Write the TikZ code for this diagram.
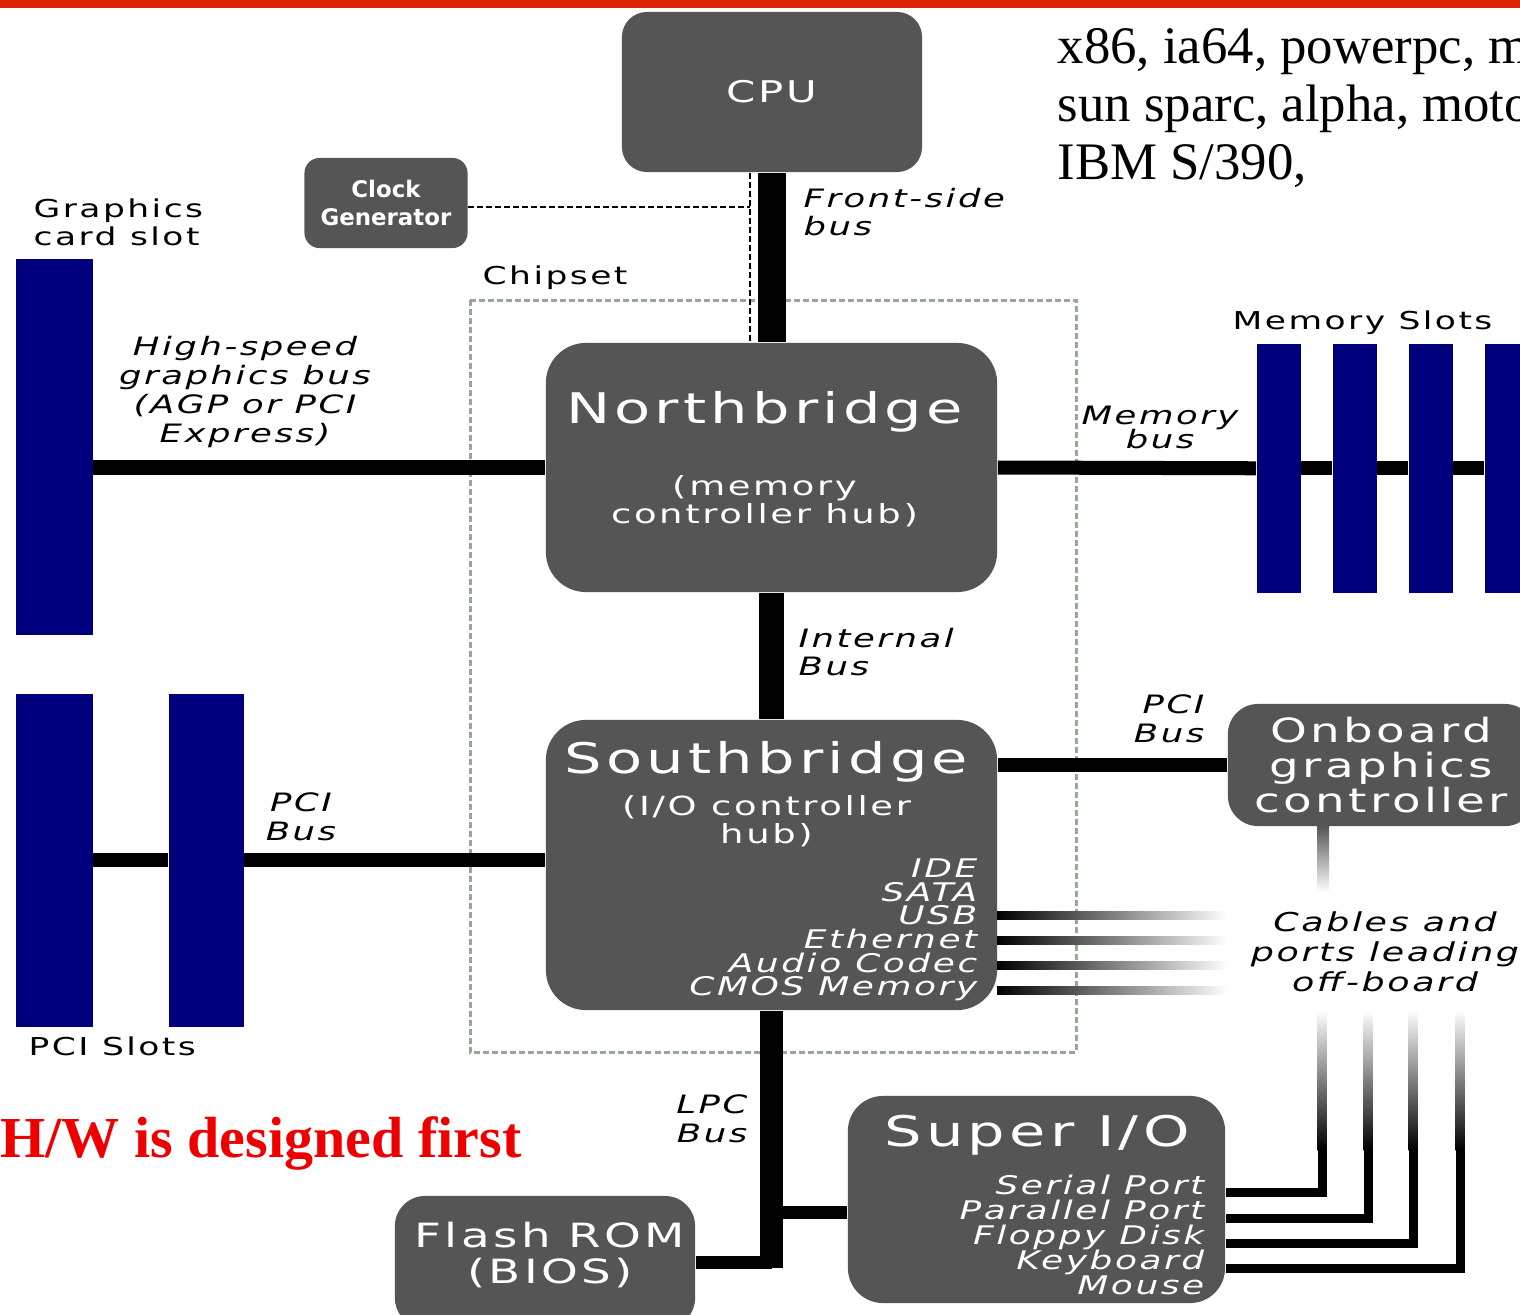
\documentclass[tikz,border=0pt]{standalone}
\usepackage{fontspec}
\setmainfont{DejaVu Sans}[FakeStretch=1.4,LetterSpace=10]
\newfontfamily\clockfont{DejaVu Sans}
\newfontfamily\slidefont{Liberation Serif}
\usetikzlibrary{calc}
\definecolor{mbgrey}{HTML}{555555}
\definecolor{mbslot}{HTML}{00007F}
\definecolor{mbred}{HTML}{DD2200}
\definecolor{mbdash}{HTML}{94A894}
\definecolor{mbtitle}{HTML}{EE0000}
\lineskiplimit=-50pt

\begin{document}
\begin{tikzpicture}[x=0.01cm,y=-0.01cm,
    chip/.style={fill=mbgrey,inner sep=0pt,text=white,align=center},
    slot/.style={fill=mbslot,inner sep=0pt,anchor=north west},
    bus/.style={line width=0.14cm},
    lpc/.style={line width=0.13cm},
    cable/.style={line width=0.09cm,line join=miter},
    clockline/.style={line width=0.025cm,dash pattern=on 0.06cm off 0.03cm},
    lbl/.style={inner sep=0pt,align=left,font=\fontsize{7}{8}\selectfont},
    buslbl/.style={inner sep=0pt,font=\itshape\fontsize{7.2}{8.2}\selectfont},
    big/.style={inner sep=0pt,text=white,font=\fontsize{12}{14}\selectfont},
    small/.style={inner sep=0pt,text=white,align=center,font=\fontsize{7.5}{8}\selectfont}]

  \clip (0,0) rectangle (1520,1315);
  \fill[white] (0,0) rectangle (1520,1315);
  \fill[mbred] (0,0) rectangle (1520,8);

  % chipset frame
  \draw[mbdash,line width=0.03cm,dash pattern=on 0.06cm off 0.03cm] (470,300) rectangle (1076,1052);
  \node[lbl,anchor=west] (chipset) at (482,278) {Chipset};

  % chips
  \node[chip,rounded corners=0.25cm,minimum width=3cm,minimum height=1.6cm,
        font=\fontsize{8.5}{10}\selectfont] (cpu) at (772,92) {CPU};
  \node[chip,rounded corners=0.15cm,minimum width=1.63cm,minimum height=0.9cm,
        font=\clockfont\bfseries\fontsize{6.5}{8}\selectfont] (clock) at (386,203) {Clock\\Generator};
  \node[chip,rounded corners=0.4cm,minimum width=4.51cm,minimum height=2.49cm] (nb) at (771.5,467.5) {};
  \node[chip,rounded corners=0.4cm,minimum width=4.51cm,minimum height=2.9cm] (sb) at (771.5,865) {};
  \node[chip,rounded corners=0.3cm,minimum width=3.07cm,minimum height=1.22cm,
        font=\fontsize{9.5}{10}\selectfont] (ogc) at (1381.5,765) {Onboard\\graphics\\controller};
  \node[chip,rounded corners=0.35cm,minimum width=3.77cm,minimum height=2.07cm] (sio) at (1036.5,1199.5) {};
  \node[chip,rounded corners=0.3cm,minimum width=3cm,minimum height=1.32cm] (flash) at (545,1262) {};

  % texts in the chips
  \node[big] (nbtitle) at ($(nb.north)+(-7,70)$) {Northbridge};
  \node[small] (nbsub) at ($(nb.north)+(-7,159)$) {(memory\\controller hub)};
  \node[big] (sbtitle) at ($(sb.north)+(-5,43)$) {Southbridge};
  \node[small] (sbsub) at ($(sb.north)+(-5,102)$) {(I/O controller\\hub)};
  \node[small,anchor=east,align=right,font=\itshape\fontsize{7.3}{6.7}\selectfont] (sblist)
        at (978,930) {IDE\\SATA\\USB\\Ethernet\\Audio Codec\\CMOS Memory};
  \node[big] (siotitle) at (1037,1135) {Super I/O};
  \node[small,anchor=east,align=right,font=\itshape\fontsize{7.3}{7.1}\selectfont] (siolist)
        at (1205,1235) {Serial Port\\Parallel Port\\Floppy Disk\\Keyboard\\Mouse};
  \node[small,font=\fontsize{9.5}{10}\selectfont] (flashtxt) at (550,1255) {Flash ROM\\(BIOS)};

  % slots
  \node[slot,minimum width=0.77cm,minimum height=3.76cm] (gslot) at (15,258) {};
  \node[slot,minimum width=0.77cm,minimum height=3.33cm] (ps1) at (15,693) {};
  \node[slot,minimum width=0.75cm,minimum height=3.33cm] (ps2) at (168,693) {};
  \foreach \i/\x in {1/1256,2/1332,3/1408,4/1484}
    \node[slot,minimum width=0.44cm,minimum height=2.49cm] (ms\i) at (\x,343) {};

  % buses
  \draw[line width=0.28cm] (cpu.south) -- (cpu.south |- nb.north);
  \coordinate (fsbtap) at (750,207);
  \draw[clockline] (clock.east |- fsbtap) -- (fsbtap);
  \draw[clockline] (fsbtap |- cpu.south) -- (fsbtap |- nb.north);
  \draw[bus] (nb.west) -- (nb.west -| gslot.east);
  \draw[bus] (nb.east) -- (ms1.west);
  \foreach \a/\b in {1/2,2/3,3/4}
    \draw[bus] (ms\a.east) -- (ms\b.west);
  \draw[line width=0.25cm] (nb.south) -- (nb.south |- sb.north);
  \draw[bus] (ps2.east) -- (ps2.east -| sb.west);
  \draw[bus] (ps1.east) -- (ps2.west);
  \draw[bus] (ogc.west) -- (ogc.west -| sb.east);
  \draw[line width=0.23cm] (sb.south) -- ($(sb.south |- flash.east)+(0,6)$);
  \draw[lpc] (flash.east) -- (flash.east -| sb.south);
  \draw[lpc] ($(sio.west)+(0,13)$) -- ($(sio.west -| sb.south)+(0,13)$);

  % cables leading off-board
  \shade[top color=mbgrey,bottom color=white] (1317,826) rectangle (1329,892);
  \foreach \y in {915,940,965,990}
    \shade[left color=black,middle color=black!55,right color=white] (997,\y-4) rectangle (1228,\y+4);
  \foreach \x/\y in {1322/1192,1368/1218,1413/1243,1460/1268} {
    \shade[top color=white,bottom color=black] (\x-4.5,1010) rectangle (\x+4.5,1150);
    \draw[cable] (\x,1149) |- (sio.east |- 0,\y);
  }

  % labels
  \node[lbl,anchor=west] (gslotlbl) at (33,222) {Graphics\\card slot};
  \node[lbl,anchor=west] (mslbl) at (1232,323) {Memory Slots};
  \node[lbl,anchor=west] (pslbl) at (28,1046) {PCI Slots};
  \node[buslbl,align=center] (agplbl) at (245,392) {High-speed\\graphics bus\\(AGP or PCI\\Express)};
  \node[buslbl,align=left,anchor=west] (fsblbl) at (803,212) {Front-side\\bus};
  \node[buslbl,align=center,font=\itshape\fontsize{7.2}{6.8}\selectfont] (membuslbl) at (1160,427) {Memory\\bus};
  \node[buslbl,align=left,anchor=west] (intlbl) at (798,652) {Internal\\Bus};
  \node[buslbl,align=right,anchor=east] (pcirlbl) at (1205,719) {PCI\\Bus};
  \node[buslbl,align=center] (pcillbl) at (301,817) {PCI\\Bus};
  \node[buslbl,align=center,font=\itshape\fontsize{7.4}{8.5}\selectfont] (cablelbl) at (1385,952) {Cables and\\ports leading\\off-board};
  \node[buslbl,align=right,anchor=east] (lpclbl) at (748,1119) {LPC\\Bus};

  % slide text
  \node[inner sep=0pt,anchor=west,align=left,font=\slidefont\fontsize{15}{16.4}\selectfont] (arch)
        at (1057,108) {x86, ia64, powerpc, m\\sun sparc, alpha, moto\\IBM S/390,};
  \node[inner sep=0pt,anchor=base west,text=mbtitle,font=\slidefont\bfseries\fontsize{16.5}{18}\selectfont] (hw)
        at (0,1157) {H/W is designed first};
\end{tikzpicture}
\end{document}
